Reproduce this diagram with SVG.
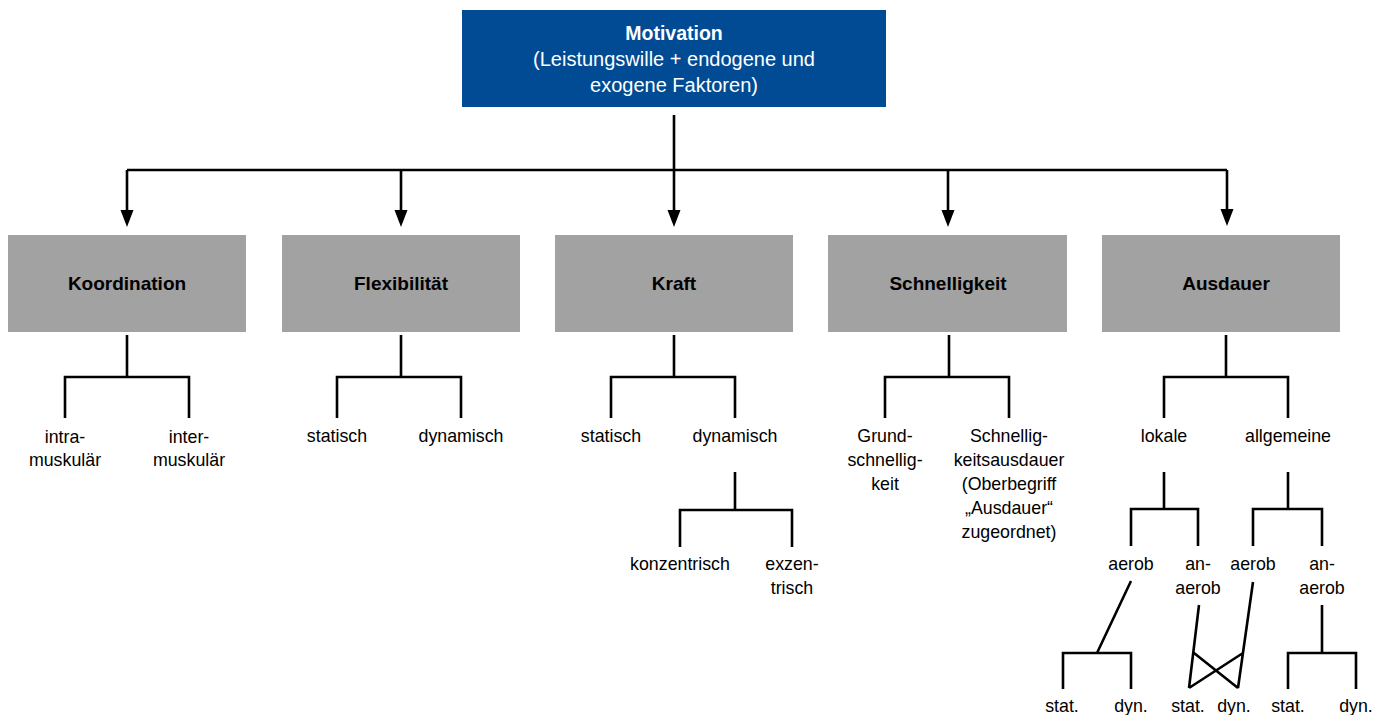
<svg xmlns="http://www.w3.org/2000/svg" width="1387" height="715" viewBox="0 0 1387 715">
<style>
text{font-family:"Liberation Sans",Arial,sans-serif;text-anchor:middle;fill:#000}
.top{fill:#004b93}
.cat{fill:#a2a2a2}
.tb{font-size:19.5px;font-weight:bold;fill:#fff}
.tw{font-size:20px;fill:#fff}
.cb{font-size:19px;font-weight:bold}
.lf{font-size:17.8px}
.ln{fill:none;stroke:#000;stroke-width:2.6}
</style>
<defs>
<marker id="arr" markerWidth="18" markerHeight="14" refX="2" refY="6.5" orient="auto" markerUnits="userSpaceOnUse">
<path d="M0,0 L17,6.5 L0,13 Z" fill="#000"/>
</marker>
</defs>
<rect width="1387" height="715" fill="#fff"/>
<g id="connectors" class="ln">
<path d="M674,115 V170 M127,170 H1227"/>
<path d="M127,170 V212" marker-end="url(#arr)"/>
<path d="M401,170 V212" marker-end="url(#arr)"/>
<path d="M674,170 V212" marker-end="url(#arr)"/>
<path d="M948,170 V212" marker-end="url(#arr)"/>
<path d="M1227,170 V211" marker-end="url(#arr)"/>
<path d="M127,335 V377 M65,418 V377 H189 V418"/>
<path d="M401,335 V377 M337,418 V377 H461 V418"/>
<path d="M674,335 V377 M611,418 V377 H735 V418"/>
<path d="M735,472 V510 M680,547 V510 H792 V547"/>
<path d="M949,335 V377 M885,418 V377 H1009 V418"/>
<path d="M1226,335 V377 M1164,418 V377 H1288 V418"/>
<path d="M1164,472 V509 M1131,546 V509 H1198 V546"/>
<path d="M1288,472 V509 M1253,546 V509 H1322 V546"/>
<path d="M1131,581 L1097,653 M1063,689 V653 H1131 V689"/>
<path d="M1199,605 L1189,688 M1253,582 L1238,688 M1194,653 L1238,688 M1243,653 L1189,688"/>
<path d="M1322,605 V653 M1288,689 V653 H1356 V689"/>
</g>
<g id="motivation">
<rect class="top" x="462" y="10" width="424" height="97"/>
<text class="tb" x="674" y="40">Motivation</text>
<text class="tw" x="674" y="66">(Leistungswille + endogene und</text>
<text class="tw" x="674" y="92">exogene Faktoren)</text>
</g>
<g id="koordination">
<rect class="cat" x="8" y="235" width="238" height="97"/>
<text class="cb" x="127" y="290">Koordination</text>
</g>
<g id="flexibilitaet">
<rect class="cat" x="282" y="235" width="238" height="97"/>
<text class="cb" x="401" y="290">Flexibilität</text>
</g>
<g id="kraft">
<rect class="cat" x="555" y="235" width="238" height="97"/>
<text class="cb" x="674" y="290">Kraft</text>
</g>
<g id="schnelligkeit">
<rect class="cat" x="828" y="235" width="239" height="97"/>
<text class="cb" x="948" y="290">Schnelligkeit</text>
</g>
<g id="ausdauer">
<rect class="cat" x="1102" y="235" width="238" height="97"/>
<text class="cb" x="1226" y="290">Ausdauer</text>
</g>
<g id="intramuskulaer"><text class="lf" x="65" y="443">intra-</text><text class="lf" x="65" y="466">muskulär</text></g>
<g id="intermuskulaer"><text class="lf" x="189" y="443">inter-</text><text class="lf" x="189" y="466">muskulär</text></g>
<g id="flex-statisch"><text class="lf" x="337" y="442">statisch</text></g>
<g id="flex-dynamisch"><text class="lf" x="461" y="442">dynamisch</text></g>
<g id="kraft-statisch"><text class="lf" x="611" y="442">statisch</text></g>
<g id="kraft-dynamisch"><text class="lf" x="735" y="442">dynamisch</text></g>
<g id="konzentrisch"><text class="lf" x="680" y="570">konzentrisch</text></g>
<g id="exzentrisch"><text class="lf" x="792" y="570">exzen-</text><text class="lf" x="792" y="594">trisch</text></g>
<g id="grundschnelligkeit"><text class="lf" x="885" y="442">Grund-</text><text class="lf" x="885" y="466">schnellig-</text><text class="lf" x="885" y="490">keit</text></g>
<g id="schnelligkeitsausdauer"><text class="lf" x="1009" y="442">Schnellig-</text><text class="lf" x="1009" y="466">keitsausdauer</text><text class="lf" x="1009" y="490">(Oberbegriff</text><text class="lf" x="1009" y="514">„Ausdauer“</text><text class="lf" x="1009" y="538">zugeordnet)</text></g>
<g id="lokale"><text class="lf" x="1164" y="442">lokale</text></g>
<g id="allgemeine"><text class="lf" x="1288" y="442">allgemeine</text></g>
<g id="lok-aerob"><text class="lf" x="1131" y="570">aerob</text></g>
<g id="lok-anaerob"><text class="lf" x="1198" y="570">an-</text><text class="lf" x="1198" y="594">aerob</text></g>
<g id="allg-aerob"><text class="lf" x="1253" y="570">aerob</text></g>
<g id="allg-anaerob"><text class="lf" x="1322" y="570">an-</text><text class="lf" x="1322" y="594">aerob</text></g>
<g id="stat1"><text class="lf" x="1062" y="712">stat.</text></g>
<g id="dyn1"><text class="lf" x="1131" y="712">dyn.</text></g>
<g id="stat2"><text class="lf" x="1188" y="712">stat.</text></g>
<g id="dyn2"><text class="lf" x="1234" y="712">dyn.</text></g>
<g id="stat3"><text class="lf" x="1288" y="712">stat.</text></g>
<g id="dyn3"><text class="lf" x="1356" y="712">dyn.</text></g>
</svg>
